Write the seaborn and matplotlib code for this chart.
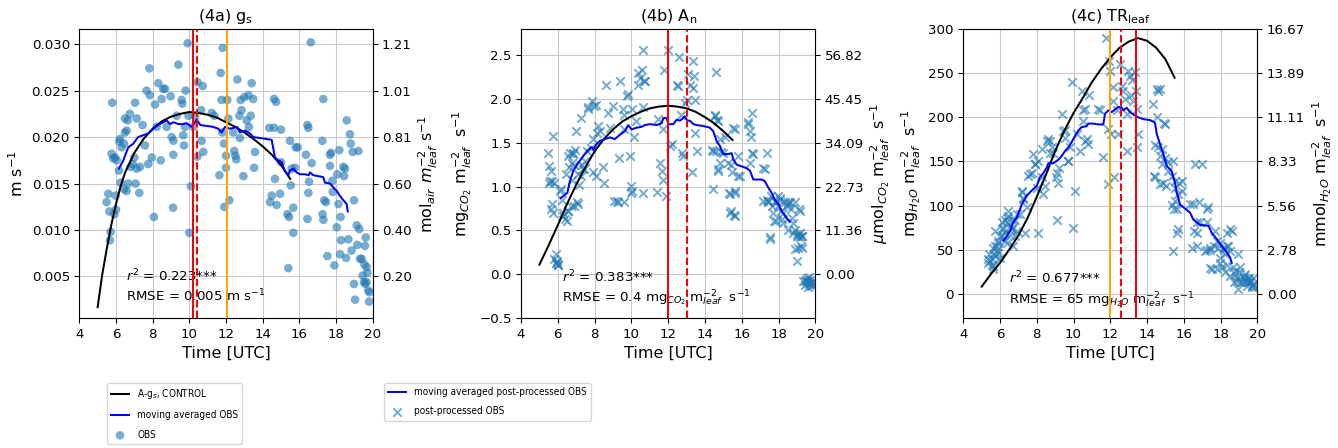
import matplotlib.pyplot as plt
import seaborn as sns
from matplotlib.font_manager import FontProperties

# unit conversion factors used for the right hand axes
GS_TO_MOL = 40.3
AN_TO_UMOL = 1000 / 44
TR_TO_MMOL = 1 / 18

# ---- (4a) stomatal conductance -------------------------------------------
gs_model_time = [5.0, 5.25, 5.5, 5.75, 6.0, 6.25, 6.5, 7.0, 7.5, 8.0, 8.5, 9.0, 9.5,
                 10.0, 10.5, 11.0, 11.5, 12.0, 12.5, 13.0, 13.5, 14.0, 14.5, 15.0, 15.5]
gs_model = [0.0017, 0.0052, 0.0080, 0.0106, 0.0128, 0.0147, 0.0162, 0.0183, 0.0198, 0.0209,
            0.0217, 0.0222, 0.0225, 0.0227, 0.0226, 0.0224, 0.0221, 0.0216, 0.0211, 0.0205,
            0.0198, 0.0190, 0.0181, 0.0170, 0.0155]

gs_avg_time = [6.16, 6.4, 6.67, 6.95, 7.2, 7.49, 7.76, 8.04, 8.3, 8.58,
               8.76, 8.95, 9.13, 9.4, 9.67, 9.85, 10.13, 10.31, 10.4, 10.6,
               10.95, 11.3, 11.58, 11.76, 11.95, 12.22, 12.6, 12.76, 13.04, 13.3,
               13.49, 13.85, 14.2, 14.49, 14.67, 14.85, 15.04, 15.2, 15.4, 15.49,
               15.67, 15.85, 16.04, 16.31, 16.5, 16.58, 16.76, 17.3, 17.4, 17.67,
               17.85, 18.04, 18.2, 18.4, 18.58, 18.64]
gs_avg = [0.0166, 0.0175, 0.0189, 0.0193, 0.0200, 0.0202, 0.0204, 0.0209, 0.0213, 0.0216,
          0.0218, 0.0214, 0.0216, 0.0214, 0.0214, 0.0215, 0.0211, 0.0216, 0.0219, 0.0213,
          0.0212, 0.0211, 0.0209, 0.0205, 0.0211, 0.0209, 0.0211, 0.0205, 0.0207, 0.0204,
          0.0200, 0.0199, 0.0198, 0.0197, 0.0178, 0.0175, 0.0173, 0.0164, 0.0159, 0.0164,
          0.0166, 0.0162, 0.0160, 0.0160, 0.0159, 0.0162, 0.0159, 0.0157, 0.0151, 0.0150,
          0.0146, 0.0142, 0.0137, 0.0132, 0.0128, 0.0120]

gs_obs_time = [5.80, 5.58, 5.49, 5.64, 5.91, 6.00, 5.98, 5.71, 5.67, 5.76,
               5.95, 6.04, 5.85, 6.18, 6.22, 6.31, 6.44, 6.49, 6.64, 6.76,
               7.13, 7.04, 6.49, 6.58, 6.16, 6.25, 6.44, 6.58, 6.67, 6.80,
               6.91, 7.00, 7.07, 7.13, 7.27, 7.31, 7.45, 7.58, 7.67, 7.82,
               7.85, 7.76, 7.95, 8.07, 8.13, 8.22, 8.31, 8.49, 8.58, 8.67,
               8.44, 8.76, 8.98, 9.04, 9.13, 9.13, 9.11, 9.40, 9.31, 9.58,
               9.62, 9.67, 9.71, 9.80, 9.91, 9.95, 10.00, 10.09, 9.76, 10.22,
               10.31, 10.44, 10.45, 10.73, 10.64, 10.67, 10.76, 11.22, 11.36, 11.64,
               11.71, 11.76, 11.82, 11.80, 11.89, 11.91, 12.00, 12.00, 12.07, 12.13,
               12.18, 12.40, 12.45, 12.51, 12.56, 12.62, 12.73, 12.80, 12.85, 12.76,
               12.95, 13.00, 13.13, 13.22, 13.25, 13.35, 13.40, 13.49, 13.53, 13.58,
               14.36, 14.40, 14.49, 14.62, 14.62, 14.73, 14.67, 14.76, 14.95, 15.00,
               15.00, 15.35, 15.44, 15.40, 15.49, 15.53, 15.67, 15.67, 15.58, 15.76,
               15.80, 15.91, 16.36, 16.44, 16.49, 16.53, 16.49, 16.44, 16.62, 16.67,
               17.31, 17.25, 17.27, 17.31, 17.36, 17.45, 17.53, 17.67, 17.67, 17.73,
               17.80, 17.82, 17.91, 18.04, 18.07, 18.13, 18.18, 18.22, 18.25, 18.27,
               18.40, 18.44, 18.49, 18.55, 18.58, 18.67, 18.76, 18.80, 18.85, 18.91,
               18.98, 18.98, 19.04, 19.13, 19.16, 19.22, 19.27, 19.31, 19.40, 19.45,
               19.53, 19.55, 19.58, 19.62, 19.67, 19.71, 19.67, 19.76, 19.80, 19.82,
               19.58]
gs_obs = [0.0237, 0.0139, 0.0130, 0.0120, 0.0117, 0.0122, 0.0137, 0.0098, 0.0089, 0.0182,
          0.0178, 0.0175, 0.0177, 0.0195, 0.0198, 0.0189, 0.0193, 0.0220, 0.0218, 0.0225,
          0.0220, 0.0237, 0.0205, 0.0207, 0.0164, 0.0151, 0.0144, 0.0142, 0.0150, 0.0168,
          0.0171, 0.0178, 0.0150, 0.0166, 0.0140, 0.0168, 0.0213, 0.0191, 0.0250, 0.0274,
          0.0245, 0.0171, 0.0178, 0.0114, 0.0235, 0.0211, 0.0258, 0.0241, 0.0252, 0.0252,
          0.0175, 0.0211, 0.0244, 0.0200, 0.0196, 0.0181, 0.0124, 0.0278, 0.0223, 0.0240,
          0.0236, 0.0202, 0.0191, 0.0250, 0.0301, 0.0223, 0.0097, 0.0147, 0.0211, 0.0211,
          0.0222, 0.0179, 0.0259, 0.0255, 0.0229, 0.0196, 0.0184, 0.0226, 0.0223, 0.0159,
          0.0269, 0.0240, 0.0296, 0.0205, 0.0193, 0.0125, 0.0180, 0.0167, 0.0240, 0.0220,
          0.0132, 0.0205, 0.0185, 0.0180, 0.0176, 0.0262, 0.0223, 0.0240, 0.0229, 0.0199,
          0.0158, 0.0243, 0.0218, 0.0245, 0.0211, 0.0223, 0.0258, 0.0241, 0.0167, 0.0184,
          0.0210, 0.0130, 0.0137, 0.0241, 0.0210, 0.0238, 0.0155, 0.0127, 0.0139, 0.0208,
          0.0173, 0.0117, 0.0114, 0.0059, 0.0196, 0.0148, 0.0124, 0.0097, 0.0166, 0.0167,
          0.0189, 0.0189, 0.0181, 0.0213, 0.0210, 0.0152, 0.0140, 0.0112, 0.0302, 0.0172,
          0.0241, 0.0196, 0.0117, 0.0111, 0.0132, 0.0130, 0.0072, 0.0181, 0.0169, 0.0183,
          0.0153, 0.0141, 0.0062, 0.0103, 0.0160, 0.0128, 0.0186, 0.0074, 0.0114, 0.0089,
          0.0168, 0.0158, 0.0166, 0.0070, 0.0218, 0.0090, 0.0203, 0.0193, 0.0078, 0.0184,
          0.0132, 0.0042, 0.0025, 0.0105, 0.0084, 0.0185, 0.0101, 0.0069, 0.0069, 0.0051,
          0.0044, 0.0063, 0.0083, 0.0092, 0.0060, 0.0054, 0.0044, 0.0035, 0.0023, 0.0033,
          0.0042]

# ---- (4b) net assimilation -----------------------------------------------
model_time = [5.0, 5.5, 6.0, 6.5, 7.0, 7.5, 8.0, 8.5, 9.0, 9.5, 10.0,
              10.5, 11.0, 11.5, 12.0, 12.5, 13.0, 13.5, 14.0, 14.5, 15.0, 15.5]
an_model = [0.11, 0.33, 0.56, 0.80, 1.02, 1.22, 1.40, 1.54, 1.65, 1.74, 1.80,
            1.85, 1.89, 1.91, 1.92, 1.91, 1.89, 1.85, 1.79, 1.72, 1.63, 1.53]

an_avg_time = [6.16, 6.3, 6.52, 6.66, 6.84, 7.12, 7.39, 7.66, 7.84, 7.93,
               8.1, 8.29, 8.57, 8.84, 9.1, 9.38, 9.65, 9.83, 10.01, 10.29,
               10.56, 10.74, 11.01, 11.37, 11.64, 11.74, 11.92, 12.01, 12.28, 12.46,
               12.64, 12.82, 12.91, 13.04, 13.18, 13.37, 13.55, 13.9, 14.27, 14.45,
               14.63, 14.82, 15.0, 15.27, 15.45, 15.54, 15.72, 15.99, 16.26, 16.45,
               16.63, 17.08, 17.26, 17.44, 17.62, 17.8, 17.99, 18.17, 18.44, 18.62]
an_avg = [0.87, 0.89, 0.93, 1.06, 1.18, 1.27, 1.35, 1.42, 1.45, 1.42,
          1.48, 1.52, 1.54, 1.56, 1.54, 1.59, 1.63, 1.70, 1.65, 1.67,
          1.68, 1.70, 1.71, 1.70, 1.72, 1.78, 1.78, 1.71, 1.71, 1.76,
          1.75, 1.78, 1.80, 1.75, 1.75, 1.71, 1.70, 1.69, 1.67, 1.63,
          1.52, 1.46, 1.37, 1.37, 1.38, 1.31, 1.25, 1.23, 1.21, 1.18,
          1.08, 1.08, 1.06, 0.99, 0.93, 0.85, 0.80, 0.72, 0.64, 0.60]

an_obs_time = [5.45, 5.54, 5.58, 5.61, 5.67, 5.63, 5.67, 5.76, 5.76, 5.90,
               5.97, 6.03, 5.94, 6.12, 6.21, 6.30, 6.39, 6.48, 6.57, 6.45,
               6.57, 6.66, 6.75, 6.84, 6.93, 6.75, 6.99, 6.88, 7.03, 7.12,
               7.24, 7.30, 7.39, 7.48, 7.57, 7.66, 7.84, 7.93, 8.06, 8.11,
               8.20, 8.29, 8.51, 8.62, 8.75, 8.84, 9.02, 9.07, 9.20, 9.38,
               9.56, 9.60, 9.74, 9.83, 9.92, 9.96, 10.01, 10.05, 10.16, 10.25,
               10.38, 10.47, 10.56, 10.61, 10.69, 10.74, 10.65, 10.65, 11.37, 11.55,
               11.64, 11.70, 11.74, 11.77, 11.88, 12.00, 12.10, 12.19, 12.46, 12.55,
               12.60, 12.70, 12.73, 12.82, 12.91, 13.04, 13.10, 13.18, 13.28, 13.33,
               13.40, 13.37, 13.46, 13.46, 13.55, 14.60, 14.36, 14.45, 14.54, 14.63,
               14.45, 14.72, 14.82, 15.00, 15.09, 15.27, 15.32, 15.41, 15.58, 15.54,
               15.45, 15.63, 15.81, 16.36, 16.45, 16.50, 16.54, 16.45, 16.54, 17.17,
               17.35, 17.35, 17.44, 17.53, 17.62, 17.71, 17.75, 17.86, 17.99, 18.08,
               18.17, 18.26, 18.44, 18.53, 18.62, 18.71, 18.80, 18.89, 18.98, 19.07,
               19.16, 19.25, 19.13, 18.98, 19.07, 19.20, 19.53, 19.62, 19.67, 19.71,
               19.76, 19.56, 19.80, 19.43, 17.16, 17.43, 17.61, 17.79, 17.97, 18.16,
               18.07, 18.34, 18.52, 18.70, 18.89, 19.16, 17.88, 18.25, 18.52, 18.80,
               18.98, 19.16, 19.25, 17.52, 18.89, 19.25, 19.35, 19.45, 19.60, 19.70,
               19.85, 19.90, 19.50, 19.65, 14.53, 14.70, 14.62, 14.80, 14.90, 14.70,
               15.35, 15.62, 15.35, 15.62, 15.44, 15.62, 15.80, 15.89, 16.35, 16.62,
               17.25, 5.81, 5.99, 5.90, 5.54, 5.81, 6.17, 6.27, 6.54, 6.72,
               7.08, 6.63, 6.81, 6.90, 7.17, 7.26, 7.45, 7.81, 7.90, 8.08,
               7.63, 7.99, 8.44, 9.26, 9.35, 9.62, 9.62, 9.98, 10.34, 11.43]
an_obs = [1.38, 1.23, 1.06, 1.18, 1.06, 0.74, 0.80, 1.57, 0.70, 0.23,
          0.13, 0.11, 0.15, 0.95, 0.85, 0.70, 0.63, 0.61, 0.72, 1.14,
          1.35, 1.38, 1.27, 1.38, 1.42, 1.08, 1.63, 0.78, 0.82, 1.14,
          1.78, 1.25, 1.20, 1.29, 1.40, 1.90, 1.97, 1.16, 1.93, 1.61,
          1.69, 1.63, 1.04, 2.16, 1.84, 1.67, 1.92, 0.83, 0.83, 2.20,
          1.88, 1.82, 2.03, 2.05, 1.35, 1.01, 0.95, 1.88, 1.56, 1.75,
          2.16, 2.24, 2.33, 2.55, 2.20, 2.20, 1.90, 0.93, 0.94, 1.27,
          1.18, 1.08, 1.65, 2.33, 0.89, 2.56, 1.46, 1.48, 2.16, 2.14,
          2.47, 1.82, 1.38, 1.35, 1.95, 1.99, 2.28, 2.16, 1.16, 2.43,
          2.26, 2.12, 1.99, 1.61, 1.40, 2.30, 1.42, 1.40, 1.82, 1.76,
          0.97, 1.20, 1.27, 1.38, 1.56, 1.27, 0.93, 0.72, 0.68, 1.67,
          1.16, 0.95, 1.12, 1.73, 1.63, 1.56, 1.84, 1.27, 1.38, 1.21,
          1.38, 0.85, 0.83, 0.42, 0.78, 0.70, 0.61, 0.82, 0.89, 0.85,
          0.63, 0.70, 0.78, 0.82, 0.82, 0.64, 0.59, 0.51, 0.46, 0.44,
          0.47, 0.44, 0.74, 0.15, 0.30, 0.32, -0.04, -0.08, -0.11, -0.06,
          -0.13, -0.09, -0.09, -0.08, 0.83, 0.82, 0.89, 0.83, 0.78, 0.72,
          0.87, 0.82, 0.80, 0.74, 0.82, 0.72, 0.61, 0.59, 0.51, 0.47,
          0.44, 0.42, 0.44, 0.40, 0.29, 0.30, -0.07, -0.12, -0.14, -0.10,
          -0.12, -0.07, -0.06, -0.03, 1.80, 1.75, 1.40, 1.54, 1.39, 1.18,
          0.91, 0.93, 0.70, 0.66, 1.25, 1.65, 1.35, 1.12, 1.71, 1.37,
          1.20, 0.17, 0.11, 0.13, 1.04, 1.04, 0.97, 0.66, 0.72, 0.78,
          0.80, 1.22, 1.37, 1.25, 1.02, 1.12, 1.20, 1.44, 1.54, 1.12,
          1.88, 1.92, 1.22, 0.82, 1.33, 1.65, 0.82, 0.93, 2.29, 1.77]

# ---- (4c) leaf transpiration ---------------------------------------------
tr_model = [8, 22, 35, 50, 66, 86, 110, 135, 162, 185, 205,
            222, 240, 255, 268, 279, 286, 290, 287, 279, 266, 245]

tr_avg_time = [6.18, 6.36, 6.54, 6.72, 6.9, 7.18, 7.45, 7.72, 7.99, 8.17,
               8.36, 8.54, 8.63, 8.9, 9.17, 9.35, 9.54, 9.72, 9.9, 10.08,
               10.26, 10.44, 10.71, 10.8, 11.08, 11.35, 11.62, 11.71, 11.89, 12.08,
               12.26, 12.44, 12.62, 12.71, 12.89, 13.07, 13.35, 13.53, 13.8, 14.16,
               14.43, 14.53, 14.7, 14.89, 15.07, 15.34, 15.52, 15.61, 15.8, 15.98,
               16.34, 16.52, 16.7, 16.88, 17.34, 17.52, 17.79, 18.06, 18.34, 18.52,
               18.61]
tr_avg = [60, 65, 71, 81, 86, 101, 111, 117, 122, 132,
          137, 143, 148, 148, 152, 156, 162, 166, 172, 179,
          185, 189, 190, 193, 193, 192, 192, 204, 208, 206,
          209, 212, 211, 208, 211, 206, 202, 200, 198, 197,
          194, 181, 170, 158, 145, 139, 126, 115, 101, 98,
          92, 84, 81, 78, 77, 69, 62, 54, 47, 41,
          35]

tr_obs_time = [5.36, 5.45, 5.54, 5.63, 5.42, 5.67, 5.72, 5.81, 5.91, 6.00,
               6.09, 6.18, 6.27, 6.36, 6.45, 6.27, 6.54, 6.72, 6.63, 6.81,
               6.90, 7.09, 7.18, 7.27, 7.36, 7.45, 7.63, 7.81, 7.90, 7.99,
               8.08, 8.27, 8.36, 8.45, 8.54, 8.72, 8.81, 8.90, 9.05, 9.17,
               9.08, 9.23, 9.35, 9.44, 9.54, 9.72, 9.81, 9.90, 9.95, 10.08,
               10.17, 10.35, 10.44, 10.53, 10.62, 10.71, 10.80, 10.86, 11.35, 11.44,
               11.62, 11.77, 11.90, 11.95, 11.99, 11.90, 12.04, 12.13, 12.17, 12.21,
               12.35, 12.44, 12.53, 12.62, 12.71, 12.80, 12.89, 12.93, 12.98, 13.07,
               13.11, 13.16, 13.25, 13.35, 13.40, 13.44, 13.47, 13.53, 14.34, 14.53,
               14.62, 14.53, 14.62, 14.44, 14.71, 14.80, 14.89, 14.98, 15.03, 15.16,
               15.40, 15.43, 15.52, 15.52, 15.61, 15.65, 15.76, 15.89, 15.89, 16.34,
               16.43, 16.52, 16.56, 16.61, 16.70, 17.16, 17.25, 17.34, 17.43, 17.52,
               17.70, 17.79, 17.88, 17.97, 18.06, 18.16, 18.25, 18.34, 18.43, 18.52,
               18.61, 18.70, 18.79, 18.88, 18.97, 19.06, 19.15, 19.25, 19.34, 19.43,
               19.52, 19.61, 19.70, 19.79, 19.88, 19.75, 18.97, 5.36, 5.54, 5.63,
               5.72, 5.81, 5.90, 6.00, 6.18, 6.27, 6.36, 6.45, 6.54, 6.63,
               6.72, 6.81, 6.90, 5.72, 5.90, 5.60, 6.09, 6.36, 7.17, 7.26,
               7.54, 7.72, 7.90, 8.08, 8.26, 8.63, 8.72, 9.08, 9.53, 9.71,
               10.53, 10.62, 17.44, 17.62, 17.99, 18.17, 18.34, 18.53, 18.34, 17.44,
               17.80, 17.99, 18.26, 18.53, 18.71, 18.89, 19.07, 19.25, 19.44, 19.62,
               19.71, 19.34, 19.53, 18.98, 18.80, 14.36, 14.72, 14.80, 14.98, 15.16,
               15.35, 15.53, 15.71, 15.35, 15.44, 15.71, 16.80, 16.90, 16.71, 16.71,
               17.26, 17.26, 16.98, 14.72, 14.90, 14.45]
tr_obs = [39, 37, 33, 31, 45, 45, 71, 54, 60, 41,
          67, 75, 83, 86, 94, 60, 66, 54, 75, 83,
          71, 90, 117, 109, 69, 98, 136, 158, 147, 120,
          69, 164, 113, 122, 173, 173, 166, 160, 132, 126,
          84, 143, 204, 185, 177, 151, 166, 240, 75, 117,
          181, 162, 230, 208, 173, 175, 170, 226, 209, 208,
          155, 290, 187, 264, 253, 124, 181, 234, 219, 132,
          208, 181, 261, 236, 230, 221, 204, 162, 253, 247,
          226, 243, 219, 251, 230, 166, 209, 181, 215, 232,
          230, 200, 166, 132, 156, 147, 126, 192, 122, 139,
          48, 151, 120, 105, 96, 69, 126, 128, 117, 102,
          52, 102, 71, 147, 81, 48, 50, 98, 52, 28,
          71, 60, 52, 41, 30, 52, 45, 33, 54, 48,
          71, 30, 22, 14, 45, 30, 13, 18, 22, 13,
          18, 14, 9, 11, 7, 18, 5, 35, 39, 28,
          43, 50, 58, 65, 73, 69, 81, 88, 77, 73,
          84, 65, 90, 54, 46, 52, 81, 58, 115, 107,
          134, 137, 147, 151, 132, 175, 160, 137, 186, 151,
          196, 209, 50, 54, 58, 50, 54, 73, 69, 29,
          28, 35, 24, 20, 13, 18, 13, 20, 9, 13,
          7, 14, 18, 24, 26, 134, 124, 164, 154, 149,
          134, 128, 113, 101, 96, 73, 104, 81, 69, 54,
          96, 81, 147, 232, 194, 169]

# marker times (solid red, dashed red, orange) per panel
gs_vlines = [10.22, 10.40, 12.04]
an_vlines = [12.0, 13.0, 12.0]
tr_vlines = [13.4, 12.6, 12.0]

OBS_COLOR = "#1f77b4"


def draw_panel(ax, obs_t, obs, avg_t, avg, mod_t, mod, marker, vlines, labels):

    if marker == "o":
        sns.scatterplot(x=obs_t, y=obs, ax=ax, marker="o", s=42, color=OBS_COLOR,
                        alpha=0.6, edgecolor="none", legend=False, label=labels[2], zorder=3)
    else:
        sns.scatterplot(x=obs_t, y=obs, ax=ax, marker="x", s=40, color=OBS_COLOR,
                        alpha=0.6, linewidth=1.5, legend=False, label=labels[2], zorder=3)

    sns.lineplot(x=mod_t, y=mod, ax=ax, color="black", lw=1.5, sort=False,
                 estimator=None, legend=False, label=labels[0], zorder=4)
    sns.lineplot(x=avg_t, y=avg, ax=ax, color="blue", lw=1.5, sort=False,
                 estimator=None, legend=False, label=labels[1], zorder=4)

    ax.axvline(vlines[2], color="orange", lw=1.5, zorder=5)
    ax.axvline(vlines[0], color="red", lw=1.5, zorder=5)
    ax.axvline(vlines[1], color="red", lw=1.5, ls="--", zorder=5)

    ax.set_xlim(4, 20)
    ax.set_xticks(range(4, 21, 2))
    ax.set_xlabel("Time [UTC]", fontsize=12)
    ax.grid(True, color="#c8c8c8", lw=0.8)
    ax.set_axisbelow(True)
    ax.tick_params(labelsize=10)


def add_right_axis(ax, ticks, factor, label):

    tw = ax.twinx()
    tw.set_ylim(ax.get_ylim())
    tw.set_yticks(ticks)
    tw.set_yticklabels([f"{t * factor:.2f}" for t in ticks])
    tw.set_ylabel(label, fontsize=12)
    tw.tick_params(labelsize=10)
    return tw


fig = plt.figure(figsize=(1338 / 96, 448 / 96), dpi=96)

W, H = 1338, 448
ax1 = fig.add_axes([79.3 / W, 1 - 318.3 / H, 293.4 / W, 289 / H])
ax2 = fig.add_axes([521 / W, 1 - 318.3 / H, 294.3 / W, 289 / H])
ax3 = fig.add_axes([963.3 / W, 1 - 318.3 / H, 294 / W, 289 / H])

draw_panel(ax1, gs_obs_time, gs_obs, gs_avg_time, gs_avg, gs_model_time, gs_model, "o",
           gs_vlines, [r"A-g$_s$, CONTROL", "moving averaged OBS", "OBS"])
ax1.set_ylim(0.0005, 0.0316)
gs_ticks = [0.005, 0.010, 0.015, 0.020, 0.025, 0.030]
ax1.set_yticks(gs_ticks)
ax1.set_yticklabels([f"{t:.3f}" for t in gs_ticks])
ax1.set_ylabel(r"m s$^{-1}$", fontsize=12)
ax1.set_title(r"(4a) g$_\mathrm{s}$", fontsize=12)
ax1.text(0.159, 0.05, "$r^2$ = 0.223***\nRMSE = 0.005 m s$^{-1}$", transform=ax1.transAxes,
         fontsize=10, va="bottom", ha="left", zorder=2)
add_right_axis(ax1, gs_ticks, GS_TO_MOL, r"mol$_{air}$ $m_{leaf}^{-2}$ s$^{-1}$")

draw_panel(ax2, an_obs_time, an_obs, an_avg_time, an_avg, model_time, an_model, "x",
           an_vlines, ["A-g$_s$, CONTROL", "moving averaged post-processed OBS", "post-processed OBS"])
ax2.set_ylim(-0.5, 2.79)
ax2.set_yticks([-0.5, 0.0, 0.5, 1.0, 1.5, 2.0, 2.5])
ax2.set_ylabel(r"mg$_{CO_2}$ m$_{leaf}^{-2}$  s$^{-1}$", fontsize=12)
ax2.set_title(r"(4b) A$_\mathrm{n}$", fontsize=12)
ax2.text(0.14, 0.035, "$r^2$ = 0.383***\nRMSE = 0.4 mg$_{CO_2}$ m$_{leaf}^{-2}$  s$^{-1}$",
         transform=ax2.transAxes, fontsize=10, va="bottom", ha="left", zorder=2)
add_right_axis(ax2, [0.0, 0.5, 1.0, 1.5, 2.0, 2.5], AN_TO_UMOL,
               r"$\mu$mol$_{CO_2}$ m$_{leaf}^{-2}$  s$^{-1}$")

draw_panel(ax3, tr_obs_time, tr_obs, tr_avg_time, tr_avg, model_time, tr_model, "x",
           tr_vlines, ["A-g$_s$, CONTROL", "moving averaged post-processed OBS", "post-processed OBS"])
ax3.set_ylim(-28, 300)
ax3.set_yticks([0, 50, 100, 150, 200, 250, 300])
ax3.set_ylabel(r"mg$_{H_2O}$ m$_{leaf}^{-2}$  s$^{-1}$", fontsize=12)
ax3.set_title(r"(4c) TR$_\mathrm{leaf}$", fontsize=12)
ax3.text(0.156, 0.03, "$r^2$ = 0.677***\nRMSE = 65 mg$_{H_2O}$ m$_{leaf}^{-2}$  s$^{-1}$",
         transform=ax3.transAxes, fontsize=10, va="bottom", ha="left", zorder=2)
add_right_axis(ax3, [0, 50, 100, 150, 200, 250, 300], TR_TO_MMOL,
               r"mmol$_{H_2O}$ m$_{leaf}^{-2}$  s$^{-1}$")

# legends below the first two panels
legend_font = FontProperties(family="DejaVu Sans", stretch="condensed", size=7.5)

h1, l1 = ax1.get_legend_handles_labels()
order1 = [l1.index(r"A-g$_s$, CONTROL"), l1.index("moving averaged OBS"), l1.index("OBS")]
fig.legend([h1[i] for i in order1], [l1[i] for i in order1], loc="upper left",
           bbox_to_anchor=(107 / W, 1 - 383 / H), borderaxespad=0, prop=legend_font,
           labelspacing=0.95, handlelength=1.8)

h2, l2 = ax2.get_legend_handles_labels()
order2 = [l2.index("moving averaged post-processed OBS"), l2.index("post-processed OBS")]
fig.legend([h2[i] for i in order2], [l2[i] for i in order2], loc="upper left",
           bbox_to_anchor=(384 / W, 1 - 383 / H), borderaxespad=0, prop=legend_font,
           labelspacing=0.95, handlelength=1.8)

fig.savefig("out.png", dpi=96)
plt.close(fig)
